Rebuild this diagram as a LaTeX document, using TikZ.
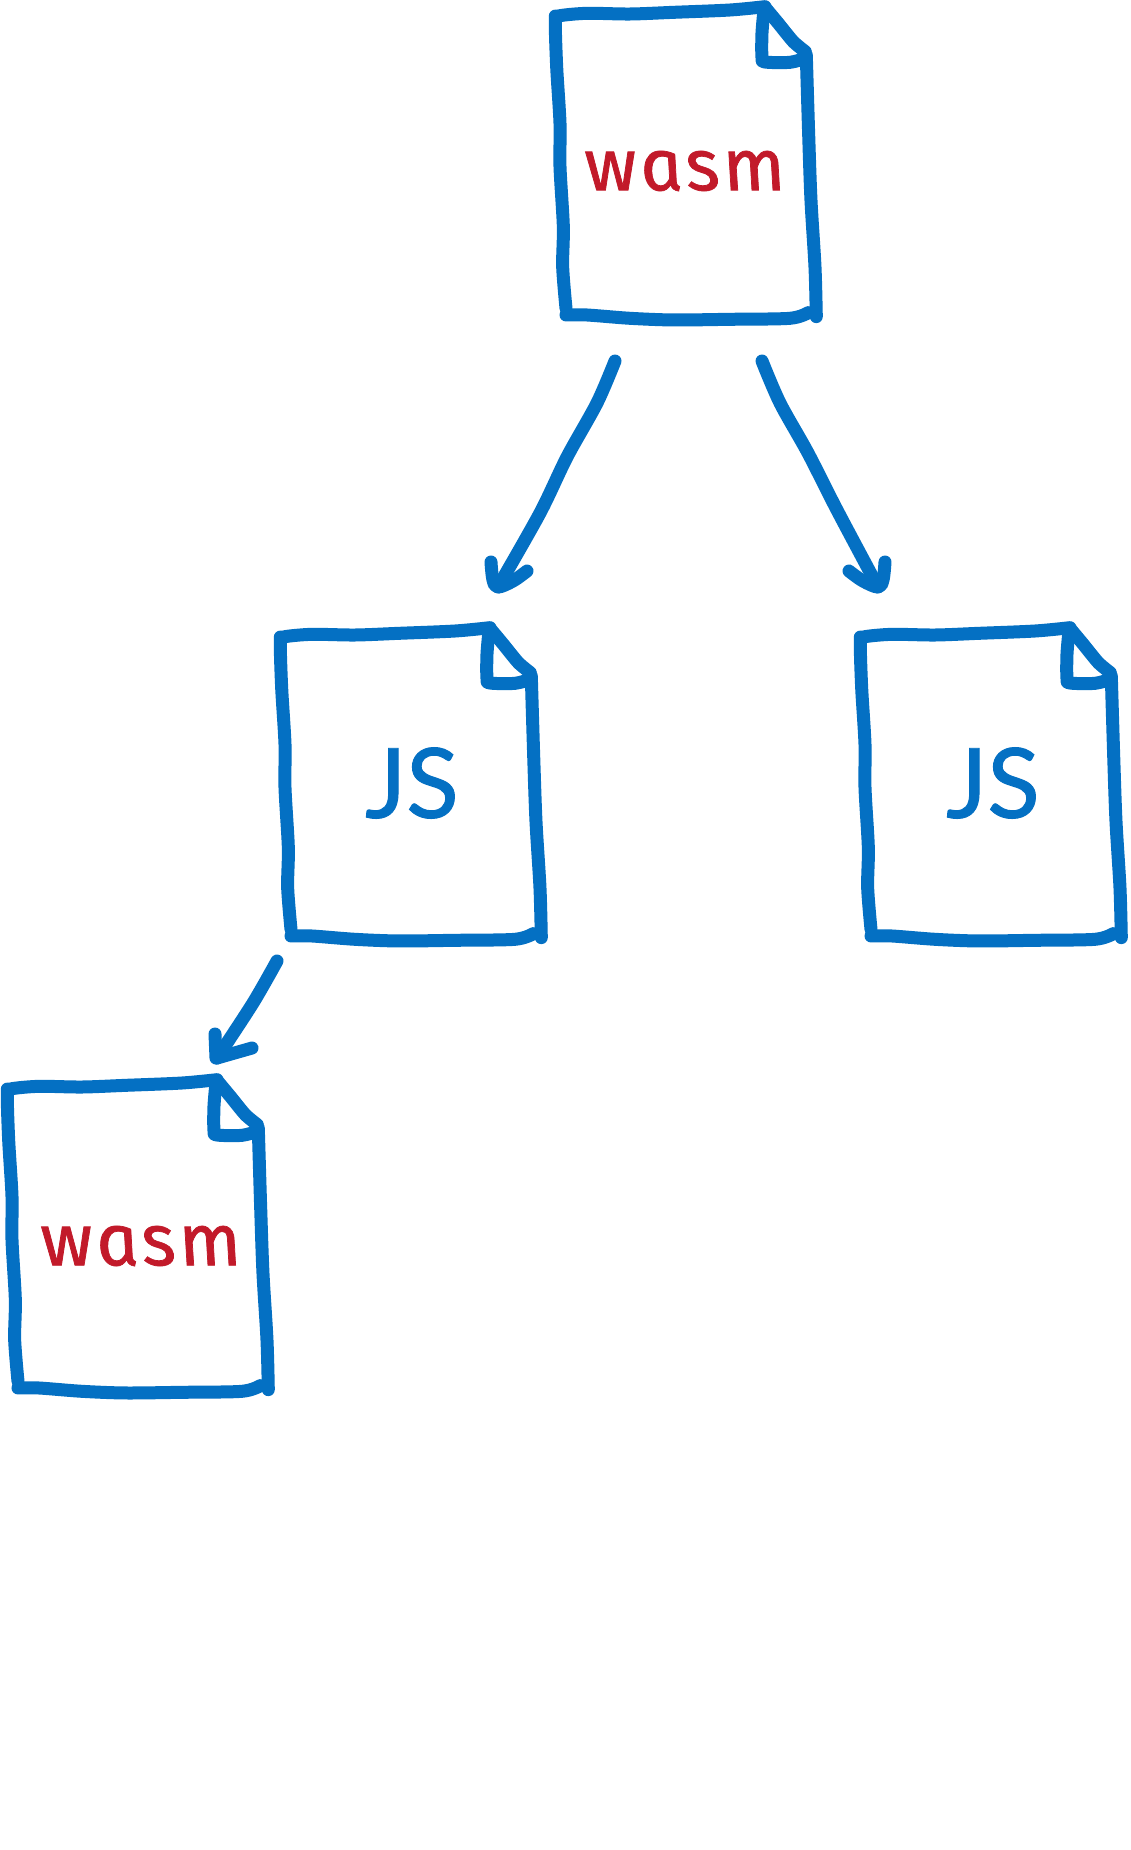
\documentclass[tikz,border=0pt]{standalone}
\usepackage{fontspec}
\setmainfont{Lato}
\newfontfamily\jsfont[FakeBold=1]{Lato}
\newfontfamily\wasmfont[ItalicFeatures={FakeBold=1},LetterSpace=5]{Fira Sans}
\definecolor{inkblue}{HTML}{0470C3}
\definecolor{inkred}{HTML}{C21A2A}
\tikzset{
  ink/.style={draw=inkblue,line width=13pt,line cap=round,line join=round},
  shaft/.style={ink,line width=13pt},
  wasmlabel/.style={text=inkred,font=\wasmfont\itshape\fontsize{73}{73}\selectfont,inner sep=0pt,xslant=-0.2,transform shape},
  jslabel/.style={text=inkblue,font=\jsfont\fontsize{97}{97}\selectfont,inner sep=0pt},
  pics/docpage/.style={code={
    \begin{scope}[x=.3333pt,y=-.3333pt]
      \draw[ink] plot[smooth,tension=.5] coordinates {(859,950)(855,800)(843,600)(836,400)(829,165)};
      \draw[ink] plot[smooth,tension=.4] coordinates {(826,155)(790,125)(745,70)(705,22)};
      \draw[ink] plot[smooth,tension=.5] coordinates {(705,20)(600,30)(430,37)(300,42)(170,40)(85,48)(76,62)(80,200)(90,370)(90,500)(100,680)(98,800)(108,925)};
      \draw[ink] plot[smooth,tension=.5] coordinates {(108,945)(170,945)(300,955)(430,960)(600,958)(780,955)(835,938)};
      \draw[ink] plot[smooth,tension=.5] coordinates {(702,30)(696,100)(696,172)(705,186)(780,187)(825,175)};
    \end{scope}
  }}
}
\begin{document}
\begin{tikzpicture}[x=1pt,y=-1pt]
\useasboundingbox[fill=white] (0,0) rectangle (1130,1850);
% pages
\pic at (530,0) {docpage};
\pic at (255,621) {docpage};
\pic at (835,621) {docpage};
\pic at (-18,1073) {docpage};
% labels
\node[wasmlabel] (wasmtop) at (685,171) {wasm};
\node[jslabel] (jsleft) at (412,783) {JS};
\node[jslabel] (jsright) at (993,783) {JS};
\node[wasmlabel] (wasmbottom) at (141,1246) {wasm};
% connector ends
\coordinate (aS) at (615,361);
\coordinate (aE) at (498,587);
\coordinate (bS) at (762,361);
\coordinate (bE) at (878,587);
\coordinate (cS) at (277,961);
\coordinate (cE) at (217,1058);
% left arrow
\draw[shaft] plot[smooth,tension=.5] coordinates {(aS)(597,403)(567,457)(540,513)(aE)};
\draw[shaft] plot[smooth,tension=.6] coordinates {(491,562)(493,580)(aE)(513,581)(527,571)};
% right arrow
\draw[shaft] plot[smooth,tension=.5] coordinates {(bS)(780,403)(808,453)(837,510)(bE)};
\draw[shaft] plot[smooth,tension=.6] coordinates {(849,571)(863,581)(bE)(883,580)(885,562)};
% lower arrow
\draw[shaft] plot[smooth,tension=.5] coordinates {(cS)(253,1003)(cE)};
\draw[shaft] plot coordinates {(215,1034)(216,1058)(cE)(252,1048)};
\end{tikzpicture}
\end{document}
